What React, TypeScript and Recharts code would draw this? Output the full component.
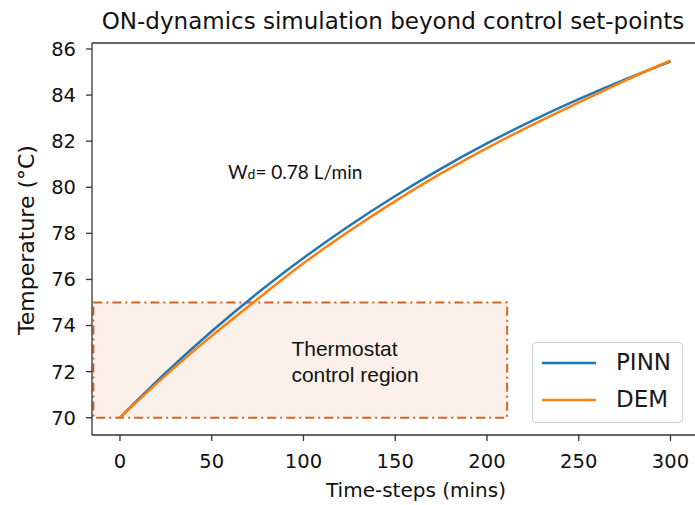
import React from "react";
import {
  ComposedChart,
  Line,
  XAxis,
  YAxis,
  ReferenceArea,
  ReferenceLine,
  ReferenceDot,
} from "recharts";

// Simulated tank temperature while the heater stays ON
const timeSteps = [0, 25, 50, 75, 100, 125, 150, 175, 200, 225, 250, 275, 300];
const pinnTemp = [70.0, 71.95, 73.75, 75.41, 76.93, 78.33, 79.62, 80.81, 81.9, 82.9, 83.82, 84.67, 85.45];
const demTemp = [70.0, 71.85, 73.55, 75.15, 76.7, 78.1, 79.4, 80.6, 81.7, 82.72, 83.68, 84.62, 85.5];

const xTicks = [0, 50, 100, 150, 200, 250, 300];
const yTicks = [70, 72, 74, 76, 78, 80, 82, 84, 86];

// Axis limits (matplotlib-style padding around the data)
const X_DOMAIN: [number, number] = [-15.25, 315];
const Y_DOMAIN: [number, number] = [69.25, 86.26];

// Thermostat band
const bandX: [number, number] = [-14.5, 211];
const bandY: [number, number] = [70, 75];

const flowNote = { x: 58.8, y: 80.62, label: "0.78 L/min" };

const chartData = timeSteps.map((t, i) => ({ t, pinn: pinnTemp[i], dem: demTemp[i] }));

const seriesMeta = [
  { key: "pinn", name: "PINN", color: "#1f77b4" },
  { key: "dem", name: "DEM", color: "#ff7f0e" },
];

const AXIS_FONT = "'DejaVu Sans', sans-serif";
const SPINE = "#333333";
const TICK_STYLE = { fontFamily: AXIS_FONT, fontSize: 19.5, fill: "#111" };

function LegendBox() {
  return (
    <div
      style={{
        position: "absolute",
        left: 532,
        top: 342,
        width: 151,
        height: 81,
        boxSizing: "border-box",
        border: "1px solid #d0d0d0",
        borderRadius: 4,
        background: "rgba(255,255,255,0.85)",
        fontFamily: AXIS_FONT,
        fontSize: 23,
        color: "#1a1a1a",
        padding: "1px 0 0 9px",
      }}
    >
      {seriesMeta.map((s) => (
        <div key={s.key} style={{ display: "flex", alignItems: "center", height: 37 }}>
          <svg width={54} height={4} style={{ display: "block" }}>
            <line x1={0} y1={2} x2={54} y2={2} stroke={s.color} strokeWidth={2.5} />
          </svg>
          <span style={{ marginLeft: 20, lineHeight: "37px" }}>{s.name}</span>
        </div>
      ))}
    </div>
  );
}

function BandLabel(props: any) {
  const vb = props.viewBox || {};
  const x = (vb.x ?? 0) + 198;
  const y = (vb.y ?? 0) + 54;
  return (
    <text x={x} y={y} fontFamily="'Liberation Sans', Arial, sans-serif" fontSize={21} fill="#111">
      <tspan x={x}>Thermostat</tspan>
      <tspan x={x} dy={26}>control region</tspan>
    </text>
  );
}

function FlowLabel(props: any) {
  const vb = props.viewBox || {};
  const x = vb.x ?? 0;
  const y = (vb.y ?? 0) + 6;
  return (
    <text x={x} y={y} fontFamily="Lato, 'Open Sans', sans-serif" fontSize={19} fill="#111">
      W<tspan fontSize={14}>d</tspan>= {flowNote.label}
    </text>
  );
}

export default function App() {
  return (
    <div style={{ position: "absolute", left: 0, top: 0, width: 695, height: 505, overflow: "hidden", background: "#fff" }}>
      <svg width={695} height={505} style={{ position: "absolute", left: 0, top: 0, pointerEvents: "none" }}>
        <text x={393} y={29} textAnchor="middle" fontFamily={AXIS_FONT} fontSize={23} fill="#111">
          ON-dynamics simulation beyond control set-points
        </text>
        <text x={416} y={497} textAnchor="middle" fontFamily={AXIS_FONT} fontSize={20} fill="#111">
          Time-steps (mins)
        </text>
        <text
          x={26}
          y={240}
          textAnchor="middle"
          dominantBaseline="central"
          transform="rotate(-90 26 240)"
          fontFamily={AXIS_FONT}
          fontSize={22}
          fill="#111"
        >
          Temperature (°C)
        </text>
      </svg>
      <ComposedChart
        width={698}
        height={505}
        data={chartData}
        margin={{ top: 43, right: 0, bottom: 0, left: 0 }}
        style={{ position: "absolute", left: 0, top: 0 }}
      >
        <XAxis
          dataKey="t"
          type="number"
          domain={X_DOMAIN}
          ticks={xTicks}
          allowDataOverflow
          height={70}
          tickSize={6}
          tickMargin={13}
          stroke={SPINE}
          strokeWidth={1.3}
          tick={TICK_STYLE}
        />
        <YAxis
          type="number"
          domain={Y_DOMAIN}
          ticks={yTicks}
          allowDataOverflow
          width={92}
          tickSize={6}
          tickMargin={10}
          stroke={SPINE}
          strokeWidth={1.3}
          tick={TICK_STYLE}
        />
        <ReferenceLine y={Y_DOMAIN[1]} stroke={SPINE} strokeWidth={1.3} />
        <ReferenceLine x={X_DOMAIN[1]} stroke={SPINE} strokeWidth={1.3} />
        {seriesMeta.map((s) => (
          <Line
            key={s.key}
            type="monotone"
            dataKey={s.key}
            name={s.name}
            stroke={s.color}
            strokeWidth={2.5}
            dot={false}
            isAnimationActive={false}
          />
        ))}
        <ReferenceArea
          x1={bandX[0]}
          x2={bandX[1]}
          y1={bandY[0]}
          y2={bandY[1]}
          fill="#f5d0b9"
          fillOpacity={0.3}
          stroke="#d9631c"
          strokeWidth={2}
          strokeDasharray="9 4 2 4"
          label={<BandLabel />}
        />
        <ReferenceDot x={flowNote.x} y={flowNote.y} r={0} fill="none" stroke="none" label={<FlowLabel />} />
      </ComposedChart>
      <LegendBox />
    </div>
  );
}
